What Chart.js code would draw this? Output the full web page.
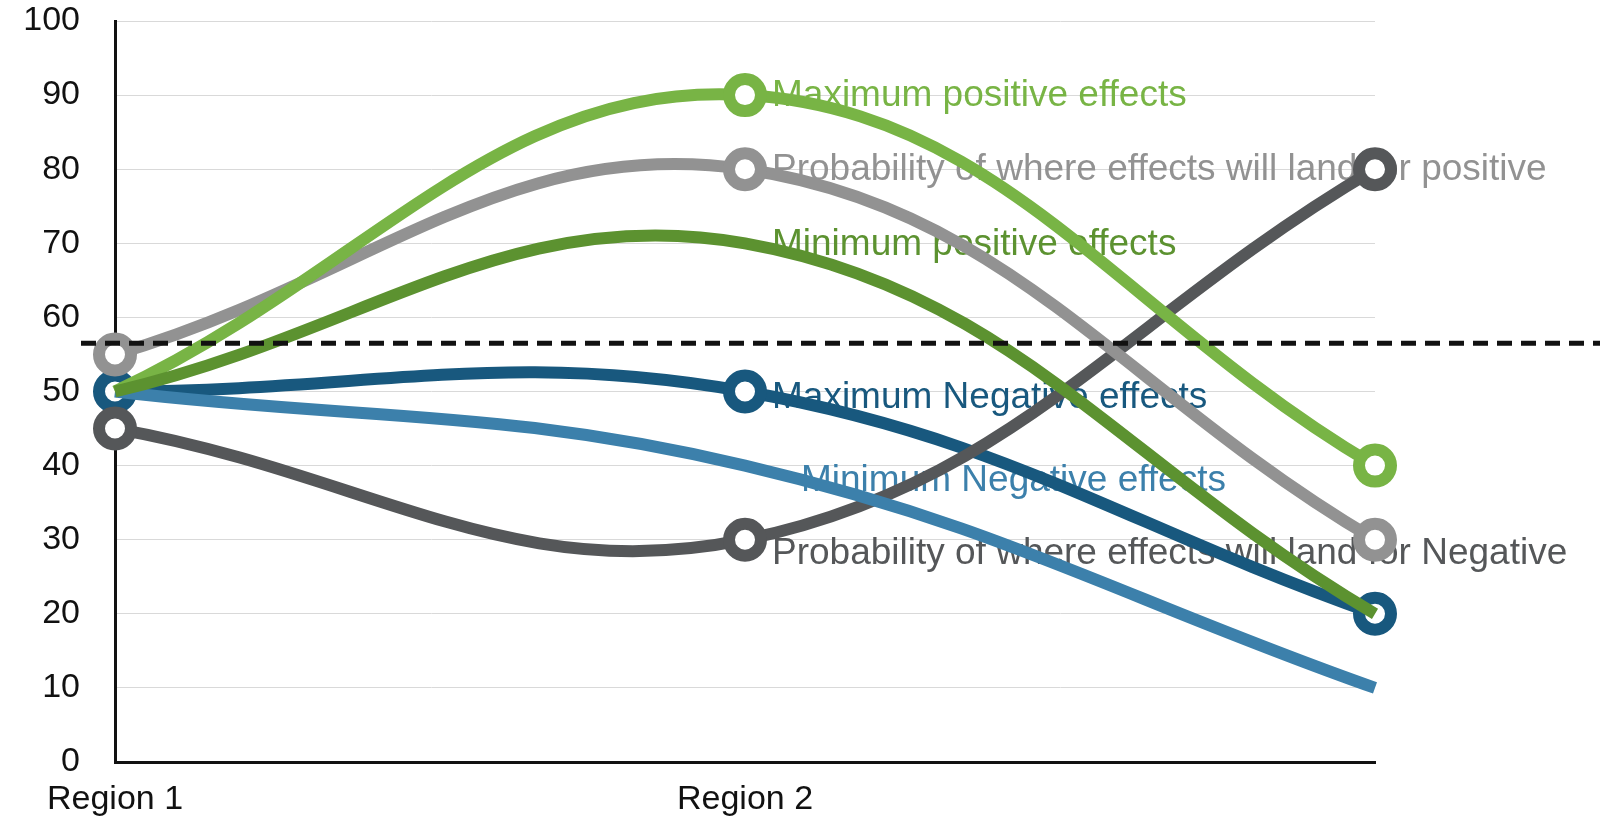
<!DOCTYPE html>
<html>
<head>
<meta charset="utf-8">
<script src="https://cdn.jsdelivr.net/npm/chart.js@4.4.1/dist/chart.umd.min.js"></script>
<style>
  html, body { margin: 0; padding: 0; background: #fff; }
  #wrap { width: 1600px; height: 824px; position: relative; }
</style>
</head>
<body>
<div id="wrap"><canvas id="chart"></canvas></div>
<script>
/* DATA */
const categories = ["Region 1", "Region 2", ""];
const maxPositive = [50, 90, 40];
const probPositive = [55, 80, 30];
const minPositive = [50, 70, 20];
const maxNegative = [50, 50, 20];
const minNegative = [50, 40, 10];
const probNegative = [45, 30, 80];
const thresholdValue = 56.5;

const FONT = '"Liberation Sans", Arial, Helvetica, sans-serif';

function drawText(ctx, text, x, y, size, color, align) {
    ctx.save();
    ctx.font = size + "px " + FONT;
    ctx.fillStyle = color;
    ctx.textAlign = align;
    ctx.textBaseline = "middle";
    ctx.fillText(text, x, y);
    ctx.restore();
}

function series(label, data, color, radius, note) {
    return {
        label: label,
        data: data,
        borderColor: color,
        backgroundColor: color,
        borderWidth: 12,
        tension: 0.4,
        pointRadius: radius,
        pointBorderWidth: 12,
        pointBorderColor: color,
        pointBackgroundColor: "#fff",
        pointHoverRadius: radius,
        clip: false,
        note: note
    };
}

/* LABELS NEXT TO REGION 2 (drawn under the lines) */
const seriesLabels = {
    id: "seriesLabels",
    beforeDatasetsDraw(chart) {
        const ctx = chart.ctx;
        chart.data.datasets.forEach((ds, i) => {
            const pt = chart.getDatasetMeta(i).data[1];
            drawText(ctx, ds.label, pt.x + ds.note.dx, pt.y + ds.note.dy, 37, ds.borderColor, "left");
        });
    }
};

/* AXIS TEXT */
const axisText = {
    id: "axisText",
    afterDraw(chart) {
        const ctx = chart.ctx;
        const y = chart.scales.y, x = chart.scales.x;
        y.ticks.forEach((t, i) => {
            drawText(ctx, String(t.value), 80, y.getPixelForTick(i), 34, "#111", "right");
        });
        categories.forEach((c, i) => {
            if (c) drawText(ctx, c, x.getPixelForValue(i), 800, 34, "#111", "center");
        });
    }
};

/* DASHED THRESHOLD */
const threshold = {
    id: "threshold",
    afterDatasetsDraw(chart) {
        const ctx = chart.ctx;
        const py = chart.scales.y.getPixelForValue(thresholdValue);
        ctx.save();
        ctx.strokeStyle = "#111";
        ctx.lineWidth = 5;
        ctx.setLineDash([15, 9]);
        ctx.beginPath();
        ctx.moveTo(81, py);
        ctx.lineTo(chart.width, py);
        ctx.stroke();
        ctx.restore();
    }
};

new Chart(document.getElementById("chart"), {
    type: "line",
    data: {
        labels: categories,
        datasets: [
            series("Minimum positive effects", minPositive, "#5c9230", [0, 0, 0], { dx: 27, dy: 1 }),
            series("Minimum Negative effects", minNegative, "#3c80ab", [0, 0, 0], { dx: 56, dy: 15 }),
            series("Maximum positive effects", maxPositive, "#78b445", [0, 16, 16], { dx: 27, dy: 1 }),
            series("Probability of where effects will land for positive", probPositive, "#929292", [16, 16, 16], { dx: 27, dy: 1 }),
            series("Probability of where effects will land for Negative", probNegative, "#555759", [16, 16, 16], { dx: 27, dy: 14 }),
            series("Maximum Negative effects", maxNegative, "#18587e", [16, 16, 16], { dx: 27, dy: 6 })
        ]
    },
    options: {
        responsive: true,
        maintainAspectRatio: false,
        animation: false,
        layout: { autoPadding: false, padding: { left: 115, right: 225, top: 21, bottom: 54 } },
        plugins: { legend: { display: false }, tooltip: { enabled: false } },
        scales: {
            x: {
                offset: false,
                grid: { display: false },
                border: { display: true, color: "#111", width: 3 },
                ticks: { display: false }
            },
            y: {
                min: 0,
                max: 100,
                grid: { color: "#d9d9d9", lineWidth: 1, drawTicks: false },
                border: { display: true, color: "#111", width: 3 },
                ticks: { display: false, stepSize: 10 }
            }
        }
    },
    plugins: [seriesLabels, axisText, threshold]
});
</script>
</body>
</html>
